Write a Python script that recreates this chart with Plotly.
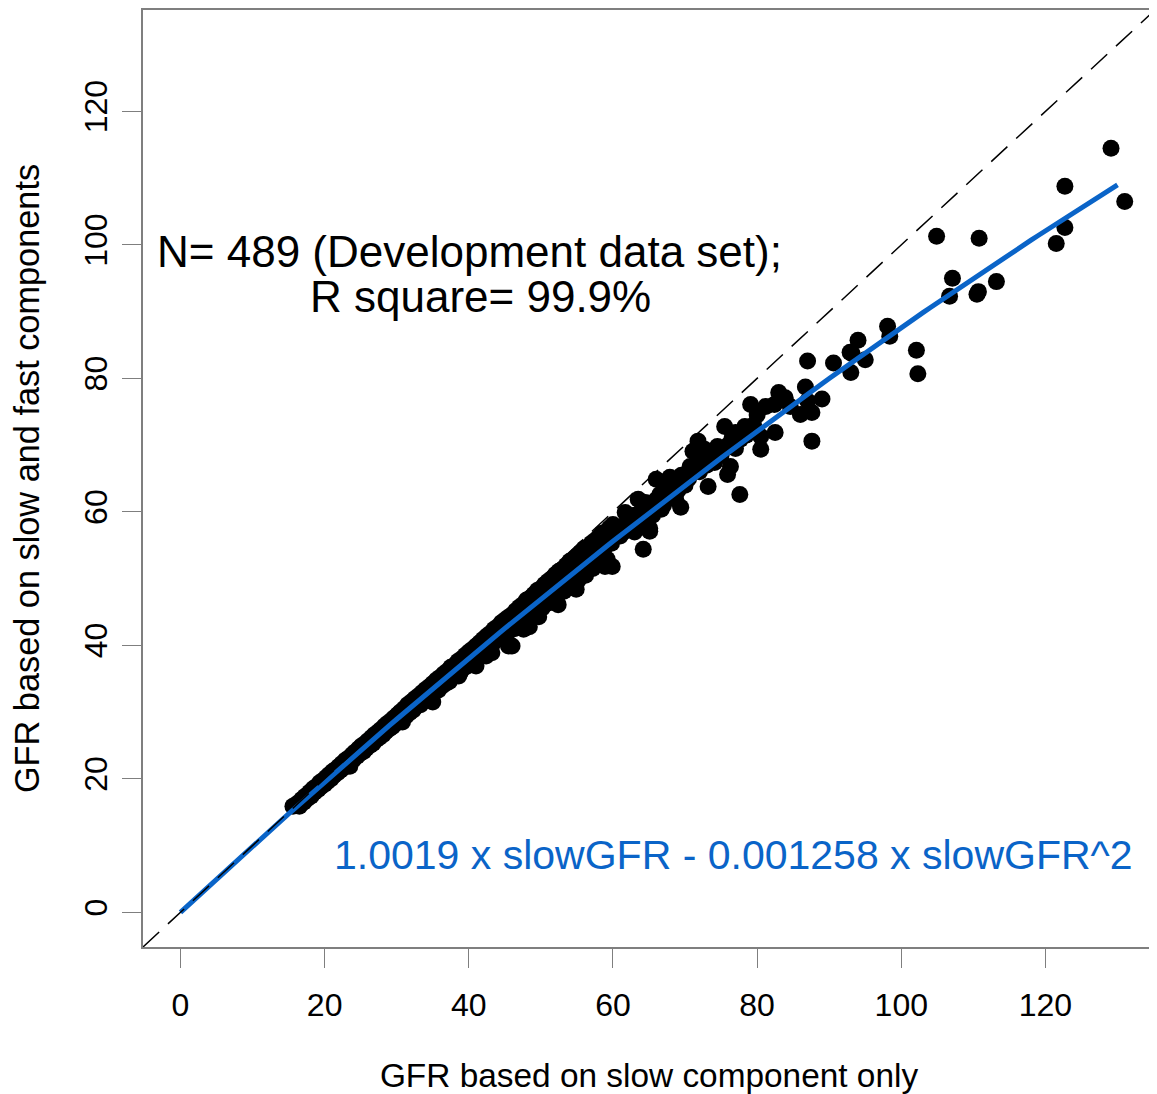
import plotly.graph_objects as go

# ---------------- data ----------------
slow_gfr = [
    # tight band 15-30 (upper row)
    15.6, 16.2, 16.8, 17.3, 17.9, 18.4, 18.8, 19.3, 19.7, 20.2, 20.6, 21.1, 21.5, 22.0, 22.4, 22.9,
    23.3, 23.8, 24.2, 24.7, 25.1, 25.6, 26.0, 26.5, 26.9, 27.4, 27.8, 28.3, 28.7, 29.2, 29.6, 30.1,
    # tight band 15-30 (lower row)
    16.5, 17.1, 17.6, 18.1, 18.6, 19.1, 19.5, 20.0, 20.4, 20.9, 21.3, 21.8, 22.2, 22.7, 23.1, 23.6,
    24.0, 24.5, 24.9, 25.4, 25.8, 26.3, 26.7, 27.2, 27.6, 28.1, 28.5, 29.0, 29.4, 29.9,
    # band 30-45 (upper row)
    30.5, 31.0, 31.5, 32.0, 32.5, 33.0, 33.5, 34.0, 34.5, 35.0, 35.5, 36.0, 36.5, 37.0, 37.5, 38.0,
    38.5, 39.0, 39.5, 40.0, 40.5, 41.0, 41.5, 42.0, 42.5, 43.0, 43.5, 44.0, 44.5, 45.0,
    # band 30-45 (lower row)
    30.8, 31.3, 31.8, 32.3, 32.8, 33.3, 33.8, 34.3, 34.8, 35.3, 35.8, 36.3, 36.8, 37.3, 37.8, 38.3,
    38.8, 39.3, 39.8, 40.3, 40.8, 41.3, 41.8, 42.3, 42.8, 43.3, 43.8, 44.3, 44.8,
    # band 45-60 (upper row)
    45.5, 46.0, 46.5, 47.0, 47.5, 48.0, 48.5, 49.0, 49.5, 50.0, 50.5, 51.0, 51.5, 52.0, 52.5, 53.0,
    53.5, 54.0, 54.5, 55.0, 55.5, 56.0, 56.5, 57.0, 57.5, 58.0, 58.5, 59.0, 59.5, 60.0,
    # band 45-60 (middle row)
    45.8, 46.8, 47.8, 48.8, 49.8, 50.8, 51.8, 52.8, 53.8, 54.8, 55.8, 56.8, 57.8, 58.8, 59.8,
    # band 45-60 (lower row)
    45.3, 46.3, 47.3, 48.2, 49.3, 50.2, 51.2, 52.2, 53.2, 54.3, 55.2, 56.2, 57.2, 58.2, 59.2,
    # low points under the band 15-65
    23.5, 30.8, 38.6, 41.0, 43.2, 45.5, 47.6, 49.7, 52.4, 54.9, 58.9, 64.2, 65.1,
    35.0, 42.4, 46.0, 48.4, 52.1, 59.9,
    # band 60-80
    60.5, 61.0, 61.5, 62.0, 62.5, 63.0, 63.0, 64.0, 64.5, 65.0, 65.5, 66.0, 66.5, 67.0, 67.5, 68.0,
    68.5, 69.0, 69.5, 70.0, 70.5, 71.0, 72.0, 72.5, 73.0, 73.5, 74.0, 75.0, 76.0, 76.5, 77.0, 78.5,
    79.5, 80.0,
    # scattered points 60-105
    61.7, 63.5, 64.5, 63.5, 65.1, 66.0, 67.9, 69.4, 66.7, 68.7, 70.7, 72.2, 71.8, 72.7, 71.1, 74.5,
    76.3, 75.9, 73.2, 74.1, 75.5, 77.0, 77.6, 78.3, 77.7, 79.1, 80.5, 80.5, 81.2, 82.4, 82.5, 83.0,
    83.9, 84.6, 86.0, 86.7, 87.0, 87.0, 87.6, 87.6, 89.0, 90.6, 93.0, 93.2, 94.0, 95.0, 98.1, 98.4,
    102.1, 102.3, 92.9,
    # upper right
    129.1, 122.7, 131.0, 122.7, 121.5, 104.9, 110.8, 107.1, 106.7, 110.7, 110.5, 113.2,
]

combined_gfr = [
    # tight band 15-30 (upper row)
    15.9, 16.3, 16.9, 17.4, 18.0, 18.5, 18.8, 19.4, 19.7, 20.2, 20.6, 21.1, 21.4, 21.9, 22.3, 22.8,
    23.1, 23.6, 24.0, 24.5, 24.9, 25.3, 25.7, 26.2, 26.6, 27.0, 27.4, 27.9, 28.3, 28.7, 29.1, 29.6,
    # tight band 15-30 (lower row)
    15.9, 16.5, 17.0, 17.4, 18.0, 18.4, 18.8, 19.2, 19.6, 20.0, 20.5, 20.9, 21.3, 21.7, 22.1, 22.5,
    22.9, 23.4, 23.8, 24.1, 24.6, 25.0, 25.3, 25.9, 26.2, 26.6, 27.1, 27.5, 27.8, 28.3,
    # band 30-45 (upper row)
    30.0, 30.5, 31.1, 31.5, 32.0, 32.4, 32.9, 33.4, 33.8, 34.3, 34.8, 35.2, 35.7, 36.1, 36.7, 37.0,
    37.6, 38.0, 38.5, 39.0, 39.4, 39.9, 40.4, 40.9, 41.4, 41.8, 42.4, 42.8, 43.4, 43.8,
    # band 30-45 (lower row)
    29.0, 29.4, 29.9, 30.3, 30.9, 31.1, 31.7, 32.1, 32.5, 33.0, 33.3, 33.9, 34.3, 34.6, 35.3, 35.6,
    35.9, 36.6, 36.9, 37.5, 37.8, 38.1, 38.9, 39.2, 39.9, 40.2, 40.9, 41.0, 41.8,
    # band 45-60 (upper row)
    44.2, 44.6, 45.2, 45.7, 46.1, 46.8, 47.1, 47.6, 48.2, 48.5, 49.1, 49.6, 50.0, 50.6, 51.1, 51.4,
    52.0, 52.6, 52.9, 53.4, 53.9, 54.5, 54.7, 55.3, 55.7, 56.2, 56.8, 57.0, 57.6, 58.1,
    # band 45-60 (middle row)
    43.3, 44.3, 45.0, 46.0, 46.8, 47.7, 48.5, 49.5, 50.2, 51.2, 51.9, 52.9, 53.6, 54.6, 55.3,
    # band 45-60 (lower row)
    41.8, 42.5, 43.3, 44.0, 45.0, 45.6, 46.4, 47.4, 48.1, 49.0, 49.8, 50.5, 51.5, 52.3, 52.9,
    # low points under the band 15-65
    21.9, 28.5, 35.4, 36.9, 38.9, 39.9, 42.4, 44.3, 46.1, 48.4, 51.8, 54.4, 57.5,
    31.5, 38.4, 39.9, 42.8, 46.9, 51.8,
    # band 60-80
    57.5, 56.4, 57.0, 58.8, 57.5, 59.5, 57.0, 60.2, 58.8, 60.8, 59.5, 61.8, 62.6, 61.0, 63.6, 62.5,
    64.5, 63.2, 65.5, 64.0, 65.0, 66.5, 66.0, 68.0, 67.0, 68.8, 69.0, 68.5, 70.0, 71.0, 69.5, 71.5,
    73.0, 74.5,
    # scattered points 60-105
    59.9, 61.9, 61.4, 58.4, 57.1, 64.9, 65.2, 60.7, 60.4, 61.9, 66.8, 67.9, 70.6, 69.4, 69.1, 69.8,
    66.8, 65.6, 63.8, 67.4, 72.8, 71.9, 62.6, 72.8, 70.9, 76.1, 71.3, 69.4, 75.8, 76.1, 71.9, 77.9,
    77.1, 75.8, 74.6, 78.7, 82.6, 76.6, 74.9, 70.6, 76.9, 82.3, 80.9, 83.7, 85.7, 82.8, 87.8, 86.3,
    84.2, 80.7, 83.9,
    # upper right
    114.5, 108.8, 106.5, 102.6, 100.2, 101.3, 101.0, 95.0, 92.3, 93.0, 92.6, 94.5,
]

# fitted quadratic shown on the chart
coef_linear = 1.0019
coef_quad = 0.001258
fit_x_max = 130.0
n_fit = 131

x_tick_vals = [0, 20, 40, 60, 80, 100, 120]
y_tick_vals = [0, 20, 40, 60, 80, 100, 120]
axis_range = [-5.2, 135.2]

label_n = "N= 489 (Development data set);"
label_r2 = "R square= 99.9%"
label_fit = "1.0019 x slowGFR - 0.001258 x slowGFR^2"
x_title = "GFR based on slow component only"
y_title = "GFR based on slow and fast components"

# ---------------- figure ----------------
FONT = "Liberation Sans, Arial, sans-serif"
BLUE = "#0A64C8"
GRAY = "#7f7f7f"

fit_x = [fit_x_max * i / (n_fit - 1) for i in range(n_fit)]
fit_y = [coef_linear * v - coef_quad * v * v for v in fit_x]

fig = go.Figure()

fig.add_trace(go.Scatter(
    x=slow_gfr, y=combined_gfr, mode="markers",
    marker=dict(color="black", size=17, line=dict(width=0)),
    showlegend=False, hoverinfo="x+y",
))

fig.add_trace(go.Scatter(
    x=fit_x, y=fit_y, mode="lines",
    line=dict(color=BLUE, width=5),
    showlegend=False, hoverinfo="skip",
))

# identity reference line (abline 0,1), drawn over the fit line as in the reference
fig.add_shape(type="line", xref="x", yref="y",
              x0=axis_range[0], y0=axis_range[0], x1=axis_range[1], y1=axis_range[1],
              line=dict(color="black", width=1.5, dash="22px,12px"), layer="above")

fig.add_annotation(text=label_n, x=40.1, y=99.0, xref="x", yref="y",
                   showarrow=False, xanchor="center", yanchor="middle",
                   font=dict(family=FONT, size=44, color="black"))
fig.add_annotation(text=label_r2, x=41.6, y=92.3, xref="x", yref="y",
                   showarrow=False, xanchor="center", yanchor="middle",
                   font=dict(family=FONT, size=44, color="black"))
fig.add_annotation(text=label_fit, x=76.7, y=8.6, xref="x", yref="y",
                   showarrow=False, xanchor="center", yanchor="middle",
                   font=dict(family=FONT, size=41, color=BLUE))

axis_common = dict(
    range=axis_range, showgrid=False, zeroline=False,
    showline=True, linecolor=GRAY, linewidth=1.5, mirror=True,
    ticks="outside", ticklen=19, tickwidth=1.2, tickcolor=GRAY,
    tickfont=dict(family=FONT, size=32, color="black"),
)

# the page body has an 8px default margin, so the figure is sized/offset to compensate
fig.update_layout(
    width=1149, height=1086,
    margin=dict(l=135, r=0, t=2, b=147),
    paper_bgcolor="white", plot_bgcolor="white",
    font=dict(family=FONT, color="black"),
    xaxis=dict(**axis_common, tickvals=x_tick_vals, ticktext=[str(v) for v in x_tick_vals],
               ticklabelstandoff=10,
               title=dict(text=x_title, font=dict(family=FONT, size=33.4), standoff=46)),
    yaxis=dict(**axis_common, tickvals=y_tick_vals, ticktext=[str(v) for v in y_tick_vals],
               tickangle=-90, ticklabelstandoff=2,
               title=dict(text=y_title, font=dict(family=FONT, size=34.3), standoff=38)),
)

fig.write_html("out.html")
